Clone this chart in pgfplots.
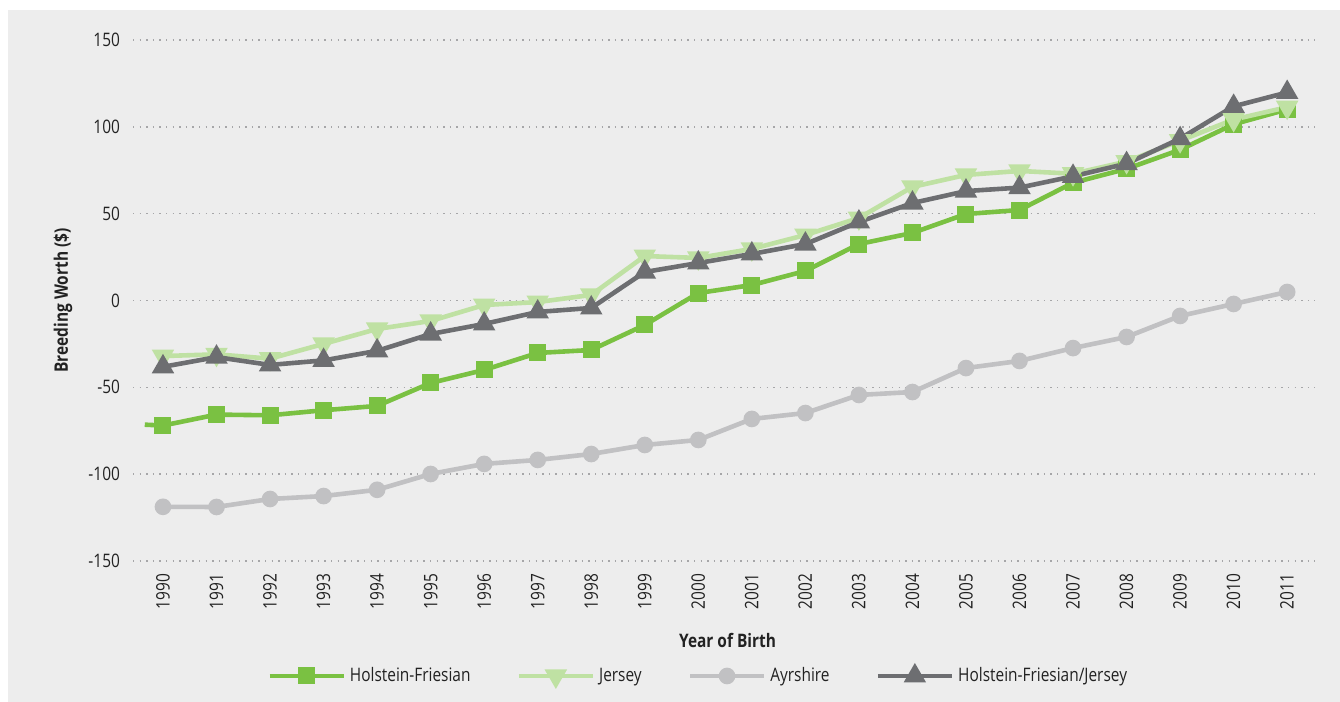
\documentclass[border=0pt]{standalone}
\usepackage{fontspec}
\setmainfont{Open Sans}[FakeStretch=0.83]
\usepackage{pgfplots}
\pgfplotsset{compat=1.18}
\definecolor{hf}{HTML}{7AC142}
\definecolor{jer}{HTML}{BFE1A3}
\definecolor{ayr}{HTML}{C1C1C3}
\definecolor{hfj}{HTML}{6D6E71}
\definecolor{bg}{HTML}{EDEDED}
\definecolor{gridc}{HTML}{A6A6A8}
\definecolor{txt}{HTML}{222222}
\begin{document}
\begin{tikzpicture}
\fill[white] (0,0) rectangle (670pt,351pt);
\fill[bg] (4pt,0) rectangle (670pt,346pt);
\begin{axis}[
  scale only axis,
  width=591pt, height=260.5pt,
  at={(66.5pt,70.5pt)}, anchor=south west,
  xmin=1989.44, xmax=2011.52,
  ymin=-150, ymax=150,
  axis line style={draw=none},
  ytick={-150,-100,...,150},
  xtick={1990,...,2011},
  /pgf/number format/1000 sep={},
  /pgf/number format/assume math mode=true,
  ymajorgrids,
  major grid style={gridc, line width=0.7pt, dash pattern=on 0.7pt off 2.6pt},
  tick style={draw=none},
  font=\fontsize{9.3}{11}\selectfont,
  tick label style={text=txt},
  xticklabel style={rotate=90, anchor=east},
  xticklabel shift=3pt,
  yticklabel shift=3pt,
  xlabel={\bfseries Year of Birth},
  ylabel={\bfseries Breeding Worth (\$)},
  xlabel style={at={(axis description cs:0.503,-0.1516)}, anchor=center, text=txt},
  ylabel style={at={(axis description cs:-0.0592,0.5)}, anchor=center, text=txt},
  legend columns=4,
  legend style={at={(axis description cs:0.479,-0.2207)}, anchor=center, draw=none, fill=none,
    font=\fontsize{9.3}{11}\selectfont, text=txt,
    /tikz/every even column/.append style={column sep=21pt}},
  legend image code/.code={\draw[mark repeat=2,mark phase=2] plot coordinates {(0pt,0pt) (18.5pt,0pt) (37pt,0pt)};},
  every axis plot/.append style={line width=2.3pt},
]
\addplot[hf, mark=none, forget plot] coordinates {(1989.66,-71.5) (1990,-72)};
\addplot[hf, mark=square*, mark size=3.1pt, mark options={solid}] coordinates {
(1990,-72) (1991,-65.7) (1992,-66.1) (1993,-63.2) (1994,-60.7) (1995,-47.5) (1996,-40)
(1997,-30.2) (1998,-28.5) (1999,-14.1) (2000,4.3) (2001,8.9) (2002,17) (2003,32.5)
(2004,38.9) (2005,49.8) (2006,52.1) (2007,67.8) (2008,75.8) (2009,86.8) (2010,101.5) (2011,110)};
\addlegendentry{Holstein-Friesian}
\addplot[jer, mark=triangle*, mark size=4.2pt, mark options={rotate=180}] coordinates {
(1990,-32) (1991,-31) (1992,-33.5) (1993,-25) (1994,-16.4) (1995,-11.8) (1996,-2.6)
(1997,-0.9) (1998,3.2) (1999,25.6) (2000,24.5) (2001,29.7) (2002,37.7) (2003,47.5)
(2004,65.4) (2005,72.3) (2006,74.6) (2007,73) (2008,80) (2009,92) (2010,104.2) (2011,111.3)};
\addlegendentry{Jersey}
\addplot[ayr, mark=*, mark size=3pt] coordinates {
(1990,-118.8) (1991,-118.9) (1992,-114.3) (1993,-112.6) (1994,-109) (1995,-99.9) (1996,-94.1)
(1997,-91.8) (1998,-88.4) (1999,-83.2) (2000,-80.3) (2001,-68.2) (2002,-64.8) (2003,-54.4)
(2004,-52.7) (2005,-38.9) (2006,-34.8) (2007,-27.4) (2008,-21) (2009,-8.9) (2010,-2) (2011,4.9)};
\addlegendentry{Ayrshire}
\addplot[hfj, mark=triangle*, mark size=4.2pt] coordinates {
(1990,-38.2) (1991,-32.6) (1992,-37.1) (1993,-34.5) (1994,-29) (1995,-19.3) (1996,-13.5)
(1997,-6.6) (1998,-4.3) (1999,16.4) (2000,21.6) (2001,26.8) (2002,32.5) (2003,45.2)
(2004,56.1) (2005,63) (2006,65) (2007,71.5) (2008,78.8) (2009,93.2) (2010,111.8) (2011,119.8)};
\addlegendentry{Holstein-Friesian/Jersey}
\end{axis}
\pgfresetboundingbox
\path (0,0) rectangle (670pt,351pt);
\end{tikzpicture}
\end{document}
